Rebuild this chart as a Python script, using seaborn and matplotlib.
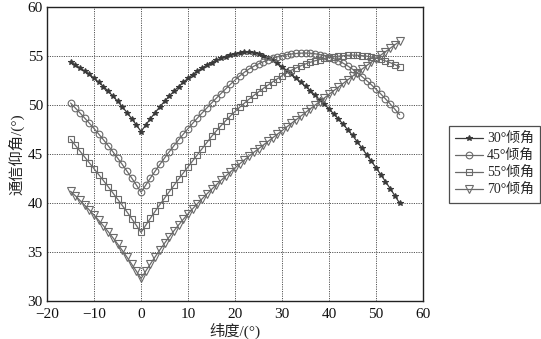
import numpy as np
import pandas as pd
import matplotlib
matplotlib.use("Agg")
import matplotlib.pyplot as plt
import seaborn as sns

# Ground-station latitude (deg), one sample per degree
latitude = np.arange(-15, 56)

# Communication elevation angle (deg) for each orbit inclination
elev_30 = [54.38, 54.10, 53.80, 53.48, 53.13, 52.74, 52.33, 51.89, 51.42, 50.92,
           50.39, 49.83, 49.24, 48.62, 47.97,
           47.30, 47.97, 48.62, 49.24, 49.83, 50.39, 50.92, 51.42, 51.89, 52.33,
           52.74, 53.12, 53.47, 53.79, 54.08, 54.34, 54.57, 54.77, 54.95, 55.10,
           55.23, 55.33, 55.40, 55.42, 55.36, 55.24, 55.06, 54.84, 54.57, 54.26,
           53.91, 53.53, 53.14, 52.74, 52.33, 51.91, 51.47, 51.02, 50.56, 50.09,
           49.60, 49.10, 48.58, 48.04, 47.48, 46.90, 46.25, 45.60, 44.95, 44.28,
           43.60, 42.90, 42.20, 41.48, 40.75, 40.00]

elev_45 = [50.21, 49.71, 49.20, 48.68, 48.15, 47.60, 47.04, 46.46, 45.86, 45.24,
           44.60, 43.94, 43.26, 42.56, 41.84,
           41.10, 41.84, 42.56, 43.26, 43.94, 44.60, 45.24, 45.86, 46.46, 47.04,
           47.60, 48.15, 48.68, 49.20, 49.71, 50.21, 50.70, 51.18, 51.65, 52.11,
           52.56, 52.98, 53.36, 53.69, 53.97, 54.21, 54.42, 54.61, 54.78, 54.93,
           55.06, 55.15, 55.22, 55.27, 55.30, 55.31, 55.29, 55.24, 55.16, 55.05,
           54.91, 54.74, 54.53, 54.28, 53.99, 53.66, 53.30, 52.91, 52.50, 52.07,
           51.62, 51.14, 50.64, 50.12, 49.58, 49.02]

elev_55 = [46.50, 45.90, 45.30, 44.70, 44.10, 43.50, 42.90, 42.29, 41.67, 41.04,
           40.40, 39.76, 39.10, 38.42, 37.72,
           37.00, 37.74, 38.46, 39.16, 39.84, 40.50, 41.16, 41.81, 42.45, 43.08,
           43.70, 44.32, 44.94, 45.56, 46.18, 46.80, 47.36, 47.89, 48.40, 48.89,
           49.35, 49.79, 50.21, 50.61, 50.99, 51.35, 51.70, 52.04, 52.37, 52.69,
           53.00, 53.29, 53.56, 53.80, 54.01, 54.20, 54.37, 54.52, 54.65, 54.76,
           54.85, 54.93, 54.99, 55.04, 55.08, 55.10, 55.09, 55.05, 54.99, 54.90,
           54.80, 54.67, 54.51, 54.33, 54.13, 53.90]

elev_70 = [41.20, 40.75, 40.27, 39.78, 39.29, 38.77, 38.23, 37.67, 37.08, 36.47,
           35.83, 35.17, 34.48, 33.77, 33.05,
           32.30, 33.06, 33.80, 34.52, 35.22, 35.90, 36.55, 37.17, 37.77, 38.35,
           38.90, 39.43, 39.94, 40.44, 40.93, 41.40, 41.86, 42.31, 42.75, 43.18,
           43.60, 44.01, 44.41, 44.80, 45.18, 45.55, 45.92, 46.29, 46.66, 47.03,
           47.40, 47.77, 48.14, 48.51, 48.88, 49.25, 49.62, 49.99, 50.36, 50.73,
           51.10, 51.47, 51.84, 52.21, 52.58, 52.95, 53.31, 53.67, 54.03, 54.39,
           54.75, 55.10, 55.45, 55.80, 56.15, 56.50]

series_labels = ["30°倾角", "45°倾角", "55°倾角", "70°倾角"]
x_ticks = [-20, -10, 0, 10, 20, 30, 40, 50, 60]
y_ticks = [30, 35, 40, 45, 50, 55, 60]

frames = []
for lab, vals in zip(series_labels, [elev_30, elev_45, elev_55, elev_70]):
    frames.append(pd.DataFrame({"lat": latitude, "elev": vals, "series": lab}))
df = pd.concat(frames, ignore_index=True)

sns.set_theme(style="white")
fam = ["Liberation Serif", "Noto Sans CJK SC", "DejaVu Sans"]
plt.rcParams["font.family"] = fam
plt.rcParams["axes.unicode_minus"] = True

fig = plt.figure(figsize=(5.41, 3.39), dpi=100)
ax = fig.add_axes([0.087, 0.112, 0.695, 0.867])

styles = {
    "30°倾角": dict(marker="*", markersize=4.2, color="#3a3a3a",
                    markerfacecolor="#3a3a3a", markeredgecolor="#3a3a3a"),
    "45°倾角": dict(marker="o", markersize=4.8, color="#6a6a6a",
                    markerfacecolor="none", markeredgecolor="#6a6a6a"),
    "55°倾角": dict(marker="s", markersize=4.8, color="#6a6a6a",
                    markerfacecolor="none", markeredgecolor="#6a6a6a"),
    "70°倾角": dict(marker="v", markersize=5.5, color="#6a6a6a",
                    markerfacecolor="none", markeredgecolor="#6a6a6a"),
}

for lab in series_labels:
    sub = df[df["series"] == lab]
    st = styles[lab]
    sns.lineplot(data=sub, x="lat", y="elev", ax=ax, label=lab,
                 color=st["color"], marker=st["marker"],
                 markersize=st["markersize"],
                 markerfacecolor=st["markerfacecolor"],
                 markeredgecolor=st["markeredgecolor"],
                 markeredgewidth=0.8, linewidth=0.9, estimator=None)

ax.set_xlim(-20, 60)
ax.set_ylim(30, 60)
ax.set_xticks(x_ticks)
ax.set_yticks(y_ticks)
ax.tick_params(axis="both", direction="in", length=0, labelsize=11,
               colors="#111111")
ax.tick_params(axis="x", pad=5)
ax.tick_params(axis="y", pad=3)
ax.grid(True, linestyle=(0, (1.2, 1.2)), color="#555555", linewidth=0.7)
for sp in ax.spines.values():
    sp.set_color("#222222")
    sp.set_linewidth(1.0)

ax.set_xlabel("纬度/(°)", fontsize=11, family=fam, labelpad=1)
ax.set_ylabel("通信仰角/(°)", fontsize=11, family=fam, labelpad=2)

leg = ax.legend(loc="center left", bbox_to_anchor=(1.068, 0.465), frameon=True,
                fancybox=False, edgecolor="#222222",
                handlelength=2.0, borderpad=0.45, labelspacing=0.28,
                handletextpad=0.3, borderaxespad=0.0,
                prop={"family": fam, "size": 10})
leg.get_frame().set_linewidth(0.9)

fig.savefig("out.png", dpi=100, facecolor="white")
